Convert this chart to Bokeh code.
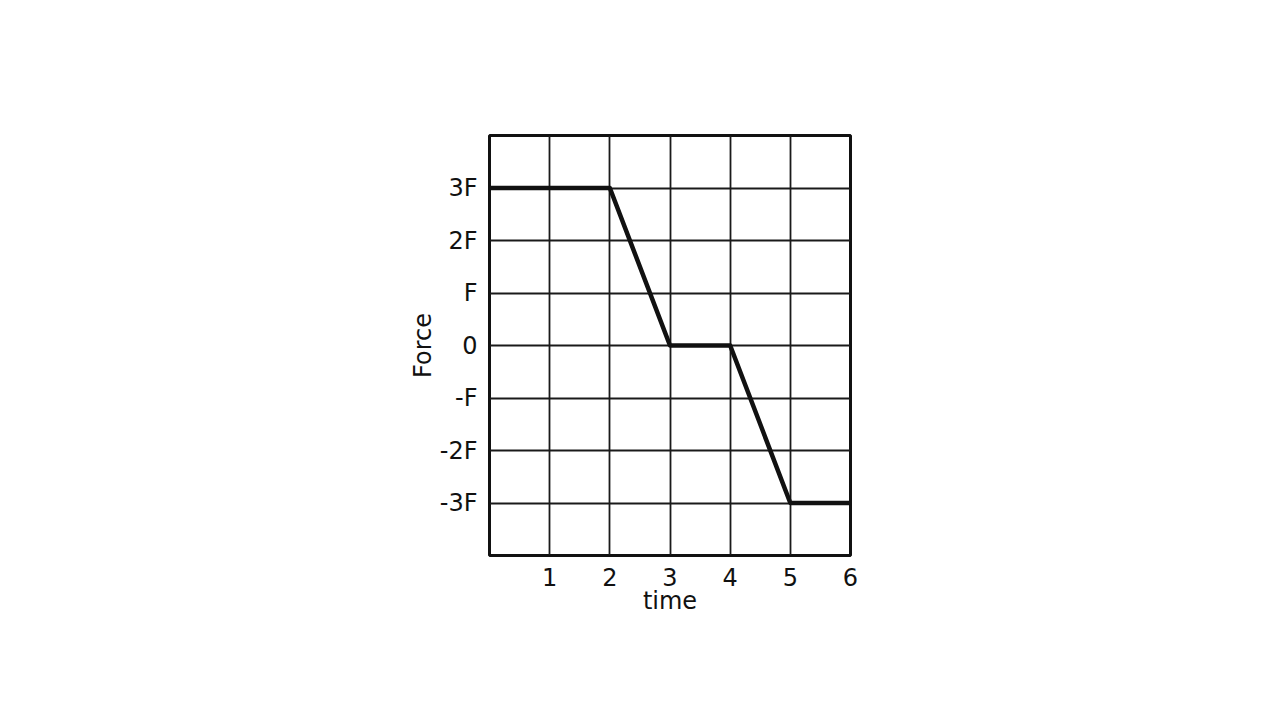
from bokeh.plotting import figure
from bokeh.models import FixedTicker, Range1d
from bokeh.embed import file_html
from bokeh.resources import INLINE

# Data
time = [0, 2, 3, 4, 5, 6]
force = [3, 3, 0, 0, -3, -3]
x_ticks = [1, 2, 3, 4, 5, 6]
x_labels = ["1", "2", "3", "4", "5", "6"]
y_ticks = [-3, -2, -1, 0, 1, 2, 3]
y_labels = ["-3F", "-2F", "-F", "0", "F", "2F", "3F"]
x_grid = [0, 1, 2, 3, 4, 5, 6]
y_grid = [-4, -3, -2, -1, 0, 1, 2, 3, 4]

FONT = "DejaVu Sans"

p = figure(width=1264, height=704, output_backend="svg", toolbar_location=None,
           x_range=Range1d(0, 6), y_range=Range1d(-4, 4),
           frame_width=361, frame_height=420,
           min_border_left=489, min_border_top=135,
           min_border_right=414, min_border_bottom=149)
p.background_fill_color = "white"
p.border_fill_color = "white"
p.outline_line_color = "#111111"
p.outline_line_width = 3

p.xgrid.ticker = FixedTicker(ticks=x_grid)
p.ygrid.ticker = FixedTicker(ticks=y_grid)
for g in (p.xgrid, p.ygrid):
    g.grid_line_color = "#1a1a1a"
    g.grid_line_width = 1.8
    g.grid_line_alpha = 1.0

p.xaxis.ticker = FixedTicker(ticks=x_ticks)
p.yaxis.ticker = FixedTicker(ticks=y_ticks)
p.xaxis.major_label_overrides = {t: l for t, l in zip(x_ticks, x_labels)}
p.yaxis.major_label_overrides = {t: l for t, l in zip(y_ticks, y_labels)}

for ax in (p.xaxis, p.yaxis):
    ax.axis_line_color = None
    ax.major_tick_line_color = None
    ax.minor_tick_line_color = None
    ax.major_label_text_font = FONT
    ax.major_label_text_font_size = "24px"
    ax.major_label_text_color = "#111111"
    ax.axis_label_text_font = FONT
    ax.axis_label_text_font_size = "24px"
    ax.axis_label_text_font_style = "normal"
    ax.axis_label_text_color = "#111111"

p.xaxis.axis_label = "time"
p.yaxis.axis_label = "Force"
p.xaxis.major_label_standoff = 6
p.yaxis.major_label_standoff = 6
p.xaxis.axis_label_standoff = -2
p.yaxis.axis_label_standoff = 0

p.line(time, force, line_color="#111111", line_width=4.5, line_join="round")

open("out.html", "w").write(file_html(p, INLINE))
